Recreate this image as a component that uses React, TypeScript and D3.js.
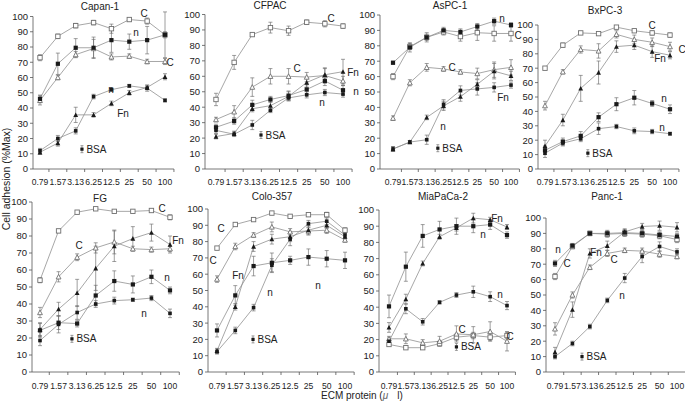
import React from 'react';
import * as d3 from 'd3';

// ---------- categories / ticks ----------
const doses = ['0.79', '1.57', '3.13', '6.25', '12.5', '25', '50', '100'];
const yTickValues = [0, 10, 20, 30, 40, 50, 60, 70, 80, 90, 100];
const panelTitles = ['Capan-1', 'CFPAC', 'AsPC-1', 'BxPC-3', 'FG', 'Colo-357', 'MiaPaCa-2', 'Panc-1'];

// ---------- data: Capan-1 ----------
const capan1Sq = [73, 87, 94, 96, 92, 98, 97, 88];
const capan1SqErr = [2, 1.5, 1.5, 1.5, 3, 1, 2, 2];
const capan1Tri = [45, 60, 75, 79, 73.5, 74, 70.5, 70.5];
const capan1TriErr = [3, 1.5, 2, 6, 2, 1.5, 1.5, 2];
const capan1Fn = [11, 17, 35.5, 35.5, 43, 50, 53.5, 60.5];
const capan1FnErr = [1.5, 2, 5, 1.5, 1.5, 1.5, 1.5, 2];
const capan1N = [46, 69, 79.5, 79.5, 84.5, 83.5, 84.5, 88];
const capan1NErr = [2.5, 7, 6, 7, 8, 5, 9, 15];
const capan1N2 = [12, 20, 25, 47.5, 52, 54.5, 53, 45];
const capan1N2Err = [1.5, 2, 2, 1.5, 1, 1, 2, 1];

// ---------- data: CFPAC ----------
const cfpacSq = [45, 69, 87, 91.5, 89.5, 95, 94, 92.5];
const cfpacSqErr = [4, 4.5, 1, 3.5, 3, 1.5, 2, 1.5];
const cfpacTri = [32, 37, 53, 60, 60, 59.5, 60.5, 57];
const cfpacTriErr = [1.5, 4, 6, 5, 5, 3, 5, 3];
const cfpacFn = [21, 23, 39, 41, 47, 56, 61, 63];
const cfpacFnErr = [1.5, 1.5, 2, 3, 3, 3, 4, 8];
const cfpacN = [27, 31, 41.5, 45, 47.5, 51.5, 57, 51];
const cfpacNErr = [2, 2, 3, 2, 3, 3, 3, 3];
const cfpacN2 = [25, 22.5, 28.5, 38, 46, 48, 49.5, 48.5];
const cfpacN2Err = [2, 1.5, 3, 1.5, 1.5, 2, 2, 2];

// ---------- data: AsPC-1 ----------
const aspc1Sq = [60, 79.5, 85.5, 89, 86, 88.5, 88, 88];
const aspc1SqErr = [2, 2, 2, 2, 3, 5, 5, 5];
const aspc1Tri = [33, 56, 66, 65, 63, 62, 64.5, 66];
const aspc1TriErr = [1.5, 2, 2.5, 1.5, 1.5, 3.5, 5, 5];
const aspc1Fn = [13, 17.5, 33.5, 41, 47, 55, 63.5, 60.5];
const aspc1FnErr = [1.5, 1, 1.5, 3, 3, 3, 5, 3];
const aspc1N = [69, 79, 85.5, 90, 89, 92.5, 96, 93.5];
const aspc1NErr = [1, 3, 3, 2, 2, 2, 2, 1.5];
const aspc1N2 = [13, 17.5, 19, 42, 51, 52, 53, 54.5];
const aspc1N2Err = [1.5, 1, 3, 3, 3, 4, 3, 2];

// ---------- data: BxPC-3 ----------
const bxpc3Sq = [70, 86, 94.5, 94, 98.5, 96, 94.5, 93];
const bxpc3SqErr = [1, 1.5, 1, 1, 1, 1, 1.5, 1.5];
const bxpc3Tri = [44, 67.5, 83, 82, 93.5, 90, 88, 85];
const bxpc3TriErr = [3, 1.5, 2.5, 5, 2.5, 3, 3, 3];
const bxpc3Fn = [16, 34, 56, 67, 85, 86, 81.5, 79];
const bxpc3FnErr = [4, 4, 9, 8, 4, 3, 4, 2.5];
const bxpc3N = [13, 19, 23, 36, 45, 49.5, 45.5, 41.5];
const bxpc3NErr = [3, 2.5, 3, 3, 4.5, 5, 2, 3];
const bxpc3N2 = [11, 18, 21, 28, 29.5, 26.5, 26, 24.5];
const bxpc3N2Err = [3, 2, 2, 4, 1.5, 2, 1.5, 1];

// ---------- data: FG ----------
const fgSq = [54, 83, 94, 96, 94.5, 94.5, 95, 91];
const fgSqErr = [1.5, 1, 1, 1, 1, 1, 1, 1.5];
const fgTri = [35, 56, 67.5, 73, 76.5, 72.5, 72, 72.5];
const fgTriErr = [3, 3, 2, 3, 7, 1.5, 1.5, 1.5];
const fgFn = [25, 37, 46.5, 61, 74, 78.5, 82, 75];
const fgFnErr = [4, 4, 8, 13, 9, 7, 5, 5];
const fgN = [24.5, 29, 28.5, 45, 53.5, 51.5, 56, 48];
const fgNErr = [4, 4, 2, 6, 6, 5, 4, 2];
const fgN2 = [18.5, 28, 35, 40, 42, 42.5, 43.5, 34.5];
const fgN2Err = [3, 5, 4, 2, 2, 1, 1.5, 2.5];

// ---------- data: Colo-357 ----------
const colo357Sq = [76, 90.5, 93.5, 97.5, 95.5, 96.5, 96.5, 87];
const colo357SqErr = [1, 1, 1, 1, 1, 1, 1.5, 1.5];
const colo357Tri = [57, 77, 84, 89, 86, 86.5, 87, 81];
const colo357TriErr = [2, 2, 1.5, 3, 2, 2, 2, 1.5];
const colo357Fn = [13, 40, 77, 81.5, 83, 87, 90, 83];
const colo357FnErr = [1.5, 2, 3, 3, 3, 3, 2, 2];
const colo357N = [25.5, 47, 65, 67, 68.5, 70.5, 69.5, 68.5];
const colo357NErr = [4, 6, 6, 6, 2.5, 5, 5, 5];
const colo357N2 = [12.5, 25.5, 39.5, 65.5, 81.5, 91, 92.5, 84];
const colo357N2Err = [1.5, 2, 2, 4, 4, 2, 2, 2];

// ---------- data: MiaPaCa-2 ----------
const miapacaSq = [17, 15, 15, 17.5, 21.5, 22.5, 21.5, 22.5];
const miapacaSqErr = [1, 1, 1, 1.5, 2, 2, 2, 2];
const miapacaTri = [20.5, 20.5, 18, 19, 23.5, 23, 25, 19];
const miapacaTriErr = [1.5, 3, 2, 3, 5, 5, 6, 6];
const miapacaFn = [27.5, 45, 67, 83.5, 89, 95, 94, 89.5];
const miapacaFnErr = [3, 3, 1.5, 1.5, 2, 3, 1.5, 1.5];
const miapacaN = [40.5, 65, 84, 88, 90, 90, 91, 84.5];
const miapacaNErr = [7, 9, 7, 5, 5, 4, 3, 2];
const miapacaN2 = [19, 39, 31, 43, 47.5, 49.5, 46.5, 41];
const miapacaN2Err = [2, 3, 2, 1, 1.5, 3.5, 3, 2.5];

// ---------- data: Panc-1 ----------
const panc1Sq = [62, 81.5, 90, 89.5, 90, 89.5, 88.5, 86];
const panc1SqErr = [2, 1.5, 1.5, 2, 2, 2, 2, 2];
const panc1Tri = [28, 50, 68, 77, 79, 78.5, 76.5, 75];
const panc1TriErr = [4, 2, 1.5, 2, 1.5, 2, 2, 1.5];
const panc1Fn = [13, 40.5, 77, 82, 91, 94.5, 95, 94];
const panc1FnErr = [3, 5, 3, 3, 2, 2, 3, 3];
const panc1N = [70.5, 82, 90, 90, 90.5, 90, 89, 88];
const panc1NErr = [2, 1.5, 1, 2, 2, 2, 2, 2];
const panc1N2 = [10, 18.5, 29.5, 46.5, 61, 75, 81.5, 78];
const panc1N2Err = [1.5, 1.5, 1.5, 1.5, 3, 4, 3, 2];

// BSA control values (one per panel)
const bsaValues = [13, 22, 13.5, 11, 19.5, 20, 15.5, 10];

// ---------- layout (pixel geometry, not data) ----------
type Note = [string, number, number];
const layouts = [
  { axisX: 33, y0: 169, y100: 16.5, first: 40, last: 165, titleX: 100, titleY: 10, labelY: 185, bsaIdx: 2.35,
    notes: [['C', 144, 13], ['n', 136, 32], ['C', 170, 62], ['n', 111, 89], ['Fn', 123, 113]] as Note[] },
  { axisX: 205, y0: 169, y100: 14.5, first: 216, last: 343, titleX: 270, titleY: 9, labelY: 185, bsaIdx: 2.48,
    notes: [['C', 331, 18], ['C', 297, 68], ['Fn', 353, 72], ['n', 356, 91], ['n', 322, 102]] as Note[] },
  { axisX: 380, y0: 169, y100: 15, first: 393, last: 511, titleX: 450, titleY: 9, labelY: 185, bsaIdx: 2.66,
    notes: [['n', 502, 18], ['C', 518, 35], ['C', 452, 67], ['Fn', 503, 97], ['n', 443, 126]] as Note[] },
  { axisX: 538, y0: 169, y100: 25, first: 545, last: 670, titleX: 605, titleY: 14, labelY: 185, bsaIdx: 2.4,
    notes: [['C', 652, 25], ['C', 682, 49], ['Fn', 660, 58], ['n', 664, 98], ['n', 662, 127]] as Note[] },
  { axisX: 32, y0: 372, y100: 202, first: 40, last: 170, titleX: 100, titleY: 202, labelY: 389, bsaIdx: 1.72,
    notes: [['C', 162, 208], ['C', 79, 245], ['Fn', 178, 240], ['n', 167, 277], ['n', 144, 313]] as Note[] },
  { axisX: 208, y0: 372, y100: 209, first: 217, last: 345, titleX: 272, titleY: 200, labelY: 389, bsaIdx: 1.97,
    notes: [['C', 221, 228], ['C', 213, 260], ['Fn', 238, 275], ['n', 318, 285], ['n', 270, 292]] as Note[] },
  { axisX: 379, y0: 372, y100: 210, first: 389, last: 507, titleX: 443, titleY: 200, labelY: 389, bsaIdx: 4.0,
    notes: [['Fn', 497, 218], ['n', 483, 234], ['n', 500, 294], ['C', 462, 329], ['C', 510, 336]] as Note[] },
  { axisX: 546, y0: 372, y100: 218, first: 555, last: 677, titleX: 607, titleY: 200, labelY: 389, bsaIdx: 1.55,
    notes: [['n', 558, 249], ['C', 567, 263], ['Fn', 596, 252], ['C', 614, 259], ['n', 622, 295]] as Note[] },
];

type Marker = 'osq' | 'otri' | 'ftri' | 'fsq' | 'fsq2';
interface Series { marker: Marker; values: number[]; errors: number[] }

const mk = (sq, sqE, tri, triE, fn, fnE, n, nE, n2, n2E): Series[] => [
  { marker: 'osq', values: sq, errors: sqE },
  { marker: 'otri', values: tri, errors: triE },
  { marker: 'ftri', values: fn, errors: fnE },
  { marker: 'fsq', values: n, errors: nE },
  { marker: 'fsq2', values: n2, errors: n2E },
];

const panelSeries: Series[][] = [
  mk(capan1Sq, capan1SqErr, capan1Tri, capan1TriErr, capan1Fn, capan1FnErr, capan1N, capan1NErr, capan1N2, capan1N2Err),
  mk(cfpacSq, cfpacSqErr, cfpacTri, cfpacTriErr, cfpacFn, cfpacFnErr, cfpacN, cfpacNErr, cfpacN2, cfpacN2Err),
  mk(aspc1Sq, aspc1SqErr, aspc1Tri, aspc1TriErr, aspc1Fn, aspc1FnErr, aspc1N, aspc1NErr, aspc1N2, aspc1N2Err),
  mk(bxpc3Sq, bxpc3SqErr, bxpc3Tri, bxpc3TriErr, bxpc3Fn, bxpc3FnErr, bxpc3N, bxpc3NErr, bxpc3N2, bxpc3N2Err),
  mk(fgSq, fgSqErr, fgTri, fgTriErr, fgFn, fgFnErr, fgN, fgNErr, fgN2, fgN2Err),
  mk(colo357Sq, colo357SqErr, colo357Tri, colo357TriErr, colo357Fn, colo357FnErr, colo357N, colo357NErr, colo357N2, colo357N2Err),
  mk(miapacaSq, miapacaSqErr, miapacaTri, miapacaTriErr, miapacaFn, miapacaFnErr, miapacaN, miapacaNErr, miapacaN2, miapacaN2Err),
  mk(panc1Sq, panc1SqErr, panc1Tri, panc1TriErr, panc1Fn, panc1FnErr, panc1N, panc1NErr, panc1N2, panc1N2Err),
];

const FONT = 'Liberation Sans, Arial, Helvetica, sans-serif';
const LINE = '#909090';
const AXIS = '#555';
const ERR = '#6a6a6a';
const DARK = '#1a1a1a';
const OPEN = '#707070';

function MarkerShape({ type, x, y }: { type: Marker; x: number; y: number }) {
  if (type === 'osq') {
    return <rect x={x - 2.2} y={y - 2.2} width={4.4} height={4.4} fill="#fff" stroke={OPEN} strokeWidth={0.9} />;
  }
  if (type === 'fsq') {
    return <rect x={x - 2.1} y={y - 2.1} width={4.2} height={4.2} fill={DARK} />;
  }
  if (type === 'fsq2') {
    return <rect x={x - 1.8} y={y - 1.8} width={3.6} height={3.6} fill={DARK} />;
  }
  const s = 4.8;
  const h = s * 0.9;
  const d = `M${x},${y - h / 2 - 0.3}L${x + s / 2},${y + h / 2}L${x - s / 2},${y + h / 2}Z`;
  if (type === 'otri') return <path d={d} fill="#fff" stroke={OPEN} strokeWidth={0.9} />;
  return <path d={d} fill={DARK} />;
}

function Panel({ idx }: { idx: number }) {
  const L = layouts[idx];
  const series = panelSeries[idx];
  const x = d3.scalePoint<string>().domain(doses).range([L.first, L.last]);
  const step = x.step();
  const y = d3.scaleLinear().domain([0, 100]).range([L.y0, L.y100]);
  const xRight = L.last + step / 2;
  const line = d3.line<number>().x((_, i) => x(doses[i]) as number).y((v) => y(v));
  const bsaX = L.first + L.bsaIdx * step;
  const bsaY = y(bsaValues[idx]);

  return (
    <g>
      {/* axes */}
      <line x1={L.axisX} x2={L.axisX} y1={y(100)} y2={L.y0} stroke={AXIS} strokeWidth={0.8} />
      <line x1={L.axisX} x2={xRight} y1={L.y0} y2={L.y0} stroke={AXIS} strokeWidth={0.8} />
      {yTickValues.map((t) => (
        <g key={'y' + t}>
          <line x1={L.axisX - 3} x2={L.axisX} y1={y(t)} y2={y(t)} stroke={AXIS} strokeWidth={0.8} />
          <text x={L.axisX - 5} y={y(t) + 3.4} fontSize={9.5} textAnchor="end" fill="#222" fontFamily={FONT}>
            {t}
          </text>
        </g>
      ))}
      {doses.map((dd) => (
        <g key={'x' + dd}>
          <line x1={(x(dd) as number) + step / 2} x2={(x(dd) as number) + step / 2} y1={L.y0} y2={L.y0 + 3}
            stroke={AXIS} strokeWidth={0.8} />
          <text x={x(dd) as number} y={L.labelY} fontSize={8.6} textAnchor="middle" fill="#222" fontFamily={FONT}>
            {dd}
          </text>
        </g>
      ))}
      <text x={L.titleX} y={L.titleY} fontSize={10} textAnchor="middle" fill="#222" fontFamily={FONT}>
        {panelTitles[idx]}
      </text>
      {/* lines */}
      {series.map((s, si) => (
        <path key={'l' + si} d={line(s.values) || ''} fill="none" stroke={LINE} strokeWidth={0.8} />
      ))}
      {/* error bars */}
      {series.map((s, si) =>
        s.values.map((v, i) => {
          const cx = x(doses[i]) as number;
          const e = s.errors[i];
          const yt = y(v + e);
          const yb = y(v - e);
          return (
            <g key={'e' + si + '-' + i} stroke={ERR} strokeWidth={0.65}>
              <line x1={cx} x2={cx} y1={yt} y2={yb} />
              <line x1={cx - 2} x2={cx + 2} y1={yt} y2={yt} />
              <line x1={cx - 2} x2={cx + 2} y1={yb} y2={yb} />
            </g>
          );
        })
      )}
      {/* markers */}
      {series.map((s, si) =>
        s.values.map((v, i) => (
          <MarkerShape key={'m' + si + '-' + i} type={s.marker} x={x(doses[i]) as number} y={y(v)} />
        ))
      )}
      {/* BSA */}
      <g stroke={ERR} strokeWidth={0.65}>
        <line x1={bsaX} x2={bsaX} y1={bsaY - 3.5} y2={bsaY + 3.5} />
        <line x1={bsaX - 1.5} x2={bsaX + 1.5} y1={bsaY - 3.5} y2={bsaY - 3.5} />
        <line x1={bsaX - 1.5} x2={bsaX + 1.5} y1={bsaY + 3.5} y2={bsaY + 3.5} />
      </g>
      <rect x={bsaX - 1.6} y={bsaY - 1.6} width={3.2} height={3.2} fill={DARK} />
      <text x={bsaX + 4.5} y={bsaY + 3.6} fontSize={10} fill="#222" fontFamily={FONT}>BSA</text>
      {/* annotations */}
      {L.notes.map(([t, nx, ny], k) => (
        <text key={'n' + k} x={nx} y={ny + 3.6} fontSize={10} textAnchor="middle" fill="#222" fontFamily={FONT}>
          {t}
        </text>
      ))}
    </g>
  );
}

export default function App() {
  return (
    <svg width={685} height={401} style={{ position: 'absolute', left: 0, top: 0, background: '#fff' }}>
      <rect x={0} y={0} width={685} height={401} fill="#fff" />
      {layouts.map((_, i) => (
        <Panel key={i} idx={i} />
      ))}
      <text transform="translate(10,179) rotate(-90)" fontSize={10.5} textAnchor="middle" fill="#222" fontFamily={FONT}>
        Cell adhesion (%Max)
      </text>
      <text x={321} y={399} fontSize={10} fill="#222" fontFamily={FONT}>
        ECM protein (<tspan fontStyle="italic" fill="#666">μ</tspan>
        <tspan dx={9}>l)</tspan>
      </text>
    </svg>
  );
}
